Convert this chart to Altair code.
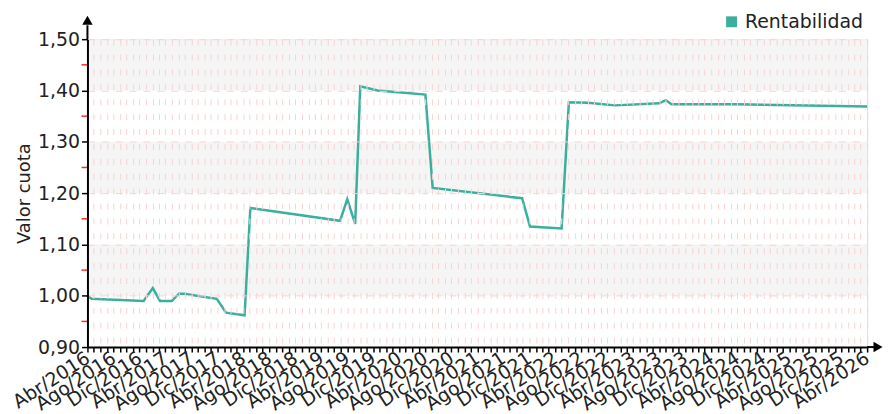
import altair as alt
import pandas as pd

# ---- data ----
dates = [
    "2016-04-01", "2016-04-20", "2016-12-20", "2017-02-01", "2017-03-07",
    "2017-05-01", "2017-06-04", "2017-06-28", "2017-11-28", "2018-01-10",
    "2018-04-07", "2018-05-04", "2019-06-28", "2019-08-01", "2019-09-07",
    "2019-10-01", "2019-12-21", "2020-08-01", "2020-09-04", "2021-10-28",
    "2021-12-04", "2022-05-01", "2022-06-04", "2022-09-01", "2023-01-07",
    "2023-08-01", "2023-09-01", "2023-09-28", "2024-08-01", "2026-04-01",
]
values = [
    1.000, 0.994, 0.990, 1.015, 0.990,
    0.990, 1.004, 1.004, 0.994, 0.967,
    0.962, 1.171, 1.146, 1.188, 1.140,
    1.408, 1.400, 1.392, 1.210, 1.190,
    1.135, 1.131, 1.377, 1.376, 1.371,
    1.375, 1.381, 1.373, 1.373, 1.369,
]
series_name = "Rentabilidad"
y_ticks = [0.90, 1.00, 1.10, 1.20, 1.30, 1.40, 1.50]
y_minor = [0.95, 1.05, 1.15, 1.25, 1.35, 1.45]
band_lo = [1.40, 1.20, 1.00]
band_hi = [1.50, 1.30, 1.10]
month_names = ["Ene", "Feb", "Mar", "Abr", "May", "Jun",
               "Jul", "Ago", "Sep", "Oct", "Nov", "Dic"]
label_months = [3, 7, 11]

# ---- style ----
W, H = 785, 310
TEAL = "#3aaf9d"
GRID = "#f7d3d3"
BAND = "#f5f5f5"
FONT = "DejaVu Sans"
TXT = "#222222"

df = pd.DataFrame({"fecha": dates, "valor": values, "serie": series_name})
bands = pd.DataFrame({"lo": band_lo, "hi": band_hi})
minor = pd.DataFrame({"v": y_minor})

yscale = alt.Scale(domain=[y_ticks[0], y_ticks[-1]], nice=False, zero=False)
xscale = alt.Scale(
    type="utc",
    domain=[alt.DateTime(year=2016, month=4, date=1, utc=True),
            alt.DateTime(year=2026, month=4, date=1, utc=True)],
    nice=False,
)

months_js = "[" + ",".join("'%s'" % m for m in month_names) + "]"
lm_js = "[" + ",".join(str(m) for m in label_months) + "]"
x_label_expr = (
    f"indexof({lm_js}, utcmonth(datum.value)) >= 0 ? "
    f"{months_js}[utcmonth(datum.value)] + '/' + utcyear(datum.value) : ''"
)

x_axis = alt.Axis(
    title=None,
    tickCount={"interval": "month", "step": 1},
    labelExpr=x_label_expr,
    labelOverlap=False,
    labelFlush=False,
    labelBound=False,
    labelAngle=-33,
    labelAlign="right",
    labelBaseline="middle",
    labelFontSize=19,
    labelFont=FONT,
    labelColor=TXT,
    labelPadding=4,
    tickColor="black",
    tickSize=5,
    tickWidth=1.5,
    domainColor="black",
    domainWidth=2,
    grid=True,
    gridColor=GRID,
    gridDash=[6, 9],
    gridWidth=1,
    zindex=1,
)
y_axis = alt.Axis(
    title="Valor cuota",
    values=y_ticks,
    labelExpr="replace(format(datum.value, '.2f'), '.', ',')",
    labelFontSize=19,
    labelFont=FONT,
    labelColor=TXT,
    labelPadding=2,
    tickColor="black",
    tickSize=6,
    tickWidth=1.5,
    domainColor="black",
    domainWidth=2,
    grid=True,
    gridColor=GRID,
    gridDash=[7, 7],
    gridWidth=1,
    titleFont=FONT,
    titleFontSize=18,
    titleFontWeight="normal",
    titleColor=TXT,
    titlePadding=4,
    zindex=1,
)

band_layer = alt.Chart(bands).mark_rect(color=BAND).encode(
    y=alt.Y("lo:Q", scale=yscale, axis=y_axis),
    y2="hi:Q",
    x=alt.value(0),
    x2=alt.value(W),
)

line_layer = alt.Chart(df).mark_line(strokeWidth=2.5).encode(
    x=alt.X("fecha:T", scale=xscale, axis=x_axis),
    y=alt.Y("valor:Q", scale=yscale, axis=y_axis),
    color=alt.Color(
        "serie:N",
        scale=alt.Scale(domain=[series_name], range=[TEAL]),
        legend=alt.Legend(
            orient="none",
            legendX=639,
            legendY=-27,
            title=None,
            symbolType="square",
            symbolSize=120,
            symbolFillColor=TEAL,
            symbolStrokeColor=TEAL,
            symbolStrokeWidth=0,
            labelFontSize=19,
            labelFont=FONT,
            labelColor=TXT,
        ),
    ),
)

minor_layer = alt.Chart(minor).mark_rule(color="#ff2a2a", strokeWidth=1.5).encode(
    y=alt.Y("v:Q", scale=yscale, axis=y_axis),
    x=alt.value(-6),
    x2=alt.value(0),
)

one = alt.Data(values=[{"a": 1}])
y_ext = alt.Chart(one).mark_rule(color="black", strokeWidth=2).encode(
    x=alt.value(0), y=alt.value(-14), y2=alt.value(0)
)
x_ext = alt.Chart(one).mark_rule(color="black", strokeWidth=2).encode(
    x=alt.value(W), x2=alt.value(W + 9), y=alt.value(H)
)
y_arrow = alt.Chart(one).mark_point(
    shape="triangle-up", filled=True, color="black", size=110, opacity=1
).encode(x=alt.value(0), y=alt.value(-19))
x_arrow = alt.Chart(one).mark_point(
    shape="triangle-right", filled=True, color="black", size=110, opacity=1
).encode(x=alt.value(W + 11), y=alt.value(H))

chart = alt.layer(
    band_layer, line_layer, minor_layer, y_ext, x_ext, y_arrow, x_arrow
).properties(
    width=W,
    height=H,
    autosize=alt.AutoSizeParams(type="none"),
    padding={"left": 80, "top": 30, "right": 17, "bottom": 66},
).configure_view(stroke=None).configure(background="white")

chart.save("out.html", embed_options={"renderer": "svg", "actions": False})
